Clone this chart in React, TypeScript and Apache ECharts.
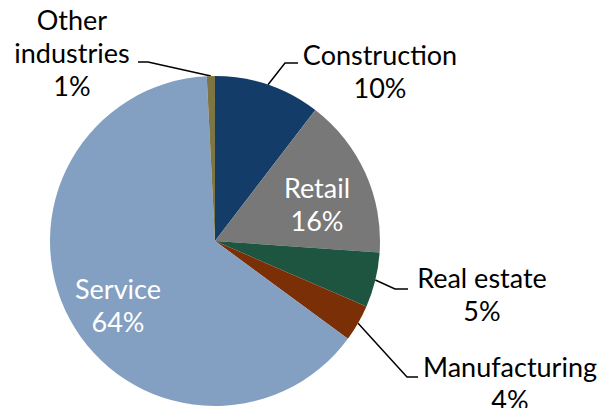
import React, { useEffect, useRef } from "react";
import * as echarts from "echarts";

const categories = ["Construction", "Retail", "Real estate", "Manufacturing", "Service", "Other\nindustries"];
const shares = [10.4, 15.7, 5.4, 3.6, 64.1, 0.8];
const colors = ["#133C68", "#787878", "#1D5540", "#7B2F06", "#839FC1", "#7E7545"];

// label anchor (x,y of first line top) and leader-line elbow/end per slice
const labelPos: Record<number, { x: number; y: number; elbow?: [number, number]; end?: [number, number] }> = {
  0: { x: 380, y: 38, elbow: [285, 63], end: [298, 63] },
  1: { x: 317, y: 171 },
  2: { x: 482, y: 261, elbow: [395, 289], end: [408, 289] },
  3: { x: 510, y: 350, elbow: [407, 377], end: [418, 377] },
  4: { x: 118, y: 272 },
  5: { x: 72, y: 3, elbow: [148, 62], end: [138, 62] },
};

export default function App() {
  const ref = useRef<HTMLDivElement>(null);
  useEffect(() => {
    if (!ref.current) return;
    const chart = echarts.init(ref.current, undefined, { renderer: "svg" });
    const data = categories.map((name, i) => {
      const inside = i === 1 || i === 4;
      return {
        name,
        value: shares[i],
        itemStyle: { color: colors[i] },
        label: inside
          ? { position: "inside", color: "#ffffff" }
          : { position: "outside", color: "#000000" },
        labelLine: { show: !inside, lineStyle: { color: "#000000", width: 1.5 } },
      };
    });
    chart.setOption({
      animation: false,
      backgroundColor: "#ffffff",
      series: [
        {
          type: "pie",
          center: [215, 241],
          radius: 165,
          startAngle: 90,
          clockwise: true,
          avoidLabelOverlap: false,
          percentPrecision: 0,
          data,
          label: {
            formatter: "{b}\n{d}%",
            fontFamily: "Lato",
            fontSize: 27,
            lineHeight: 33,
            align: "center",
          },
          labelLine: { show: true, length: 20, length2: 10 },
          labelLayout: (params: any) => {
            const p = labelPos[params.dataIndex];
            const out: any = { x: p.x, y: p.y, align: "center", verticalAlign: "top" };
            if (p.elbow && params.labelLinePoints) {
              out.labelLinePoints = [params.labelLinePoints[0], p.elbow, p.end];
            }
            return out;
          },
          emphasis: { disabled: true },
        },
      ],
    });
    return () => chart.dispose();
  }, []);
  return (
    <div
      ref={ref}
      style={{ position: "fixed", left: 0, top: 0, width: 604, height: 408, background: "#fff" }}
    />
  );
}
